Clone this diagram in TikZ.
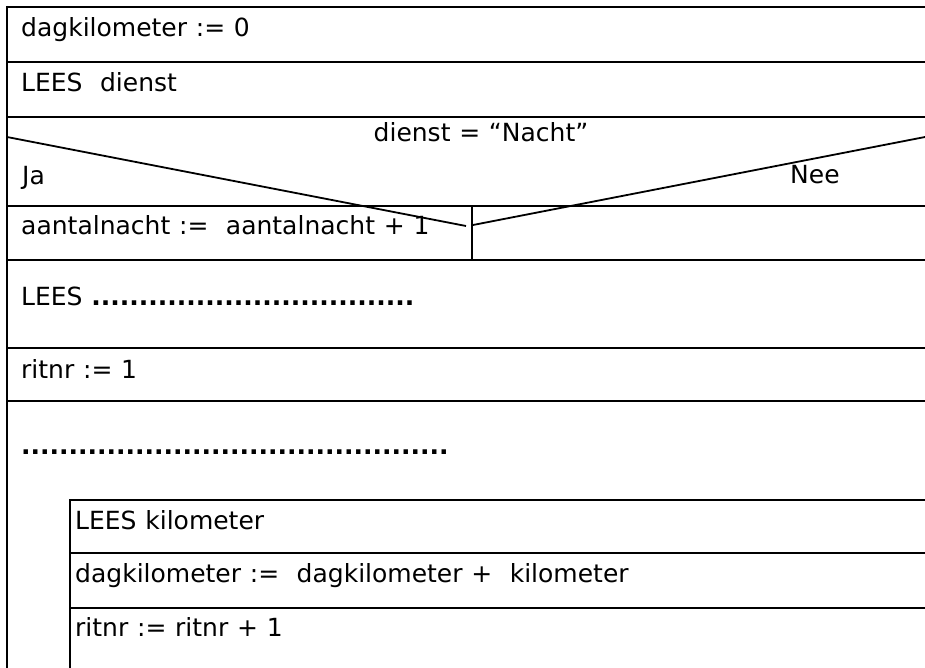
\documentclass[tikz,border=0pt]{standalone}
\usepackage{fontspec}
\setmainfont{DejaVu Sans}[WordSpace=1.1]
\begin{document}
\begin{tikzpicture}[x=1pt,y=-1pt,
  rule/.style={line width=2.2pt},
  diag/.style={line width=1.8pt},
  txt/.style={anchor=base west,inner sep=0pt,font=\fontsize{25}{30}\selectfont},
  ctxt/.style={anchor=base,inner sep=0pt,font=\fontsize{25}{30}\selectfont}]
\useasboundingbox (0,0) rectangle (925,668);
% frame coordinates
\coordinate (L0) at (7,6);
\coordinate (Lb) at (7,668);
\coordinate (I0) at (70,499);
\coordinate (Ib) at (70,668);
% outer rows
\foreach \y in {7,62,117,206,260,348,401}
  \draw[rule] (7,\y) -- (925,\y);
% inner rows
\foreach \y in {500,553,608}
  \draw[rule] (70,\y) -- (925,\y);
\draw[rule] (L0) -- (Lb);
\draw[rule] (I0) -- (Ib);
% condition
\coordinate (dl) at (7,137);
\coordinate (dle) at (466,226);
\coordinate (drs) at (473,225);
\coordinate (dr) at (925,137);
\coordinate (vt) at (472,206);
\coordinate (vb) at (472,260);
\draw[diag] (dl) -- (dle);
\draw[diag] (drs) -- (dr);
\draw[rule] (vt) -- (vb);
% texts
\node[txt] (t1) at (21,37) {dagkilometer := 0};
\node[txt] (t2) at (21,92) {LEES\ \ dienst};
\node[ctxt] (cond) at (481,142) {dienst = “Nacht”};
\node[txt] (ja) at (22,185) {Ja};
\node[txt] (nee) at (790,184) {Nee};
\node[txt] (t3) at (21,234) {aantalnacht :=\ \ aantalnacht + 1};
\node[txt] (t4) at (21,305) {LEES {\bfseries ..................................}};
\node[txt] (t5) at (21,378) {ritnr := 1};
\node[txt] (t6) at (21,454) {\bfseries .............................................};
\node[txt] (t7) at (75,529) {LEES kilometer};
\node[txt] (t8) at (75,582) {dagkilometer :=\ \ dagkilometer +\ \ kilometer};
\node[txt] (t9) at (75,636) {ritnr := ritnr + 1};
\end{tikzpicture}
\end{document}
